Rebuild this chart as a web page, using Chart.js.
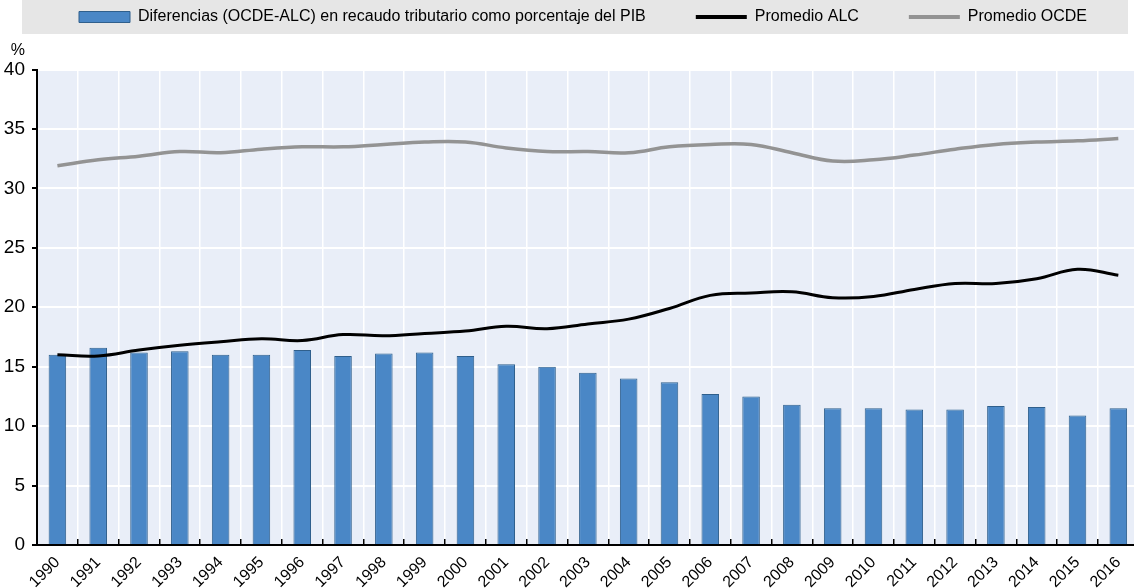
<!DOCTYPE html>
<html>
<head>
<meta charset="utf-8">
<script src="https://cdn.jsdelivr.net/npm/chart.js@4.4.1/dist/chart.umd.min.js"></script>
<style>
  html, body { margin: 0; padding: 0; background: #fff; overflow: hidden; }
  #wrap { position: relative; width: 1146px; height: 588px; }
</style>
</head>
<body>
<div id="wrap"><canvas id="c"></canvas></div>
<script>
const years = ['1990','1991','1992','1993','1994','1995','1996','1997','1998','1999','2000','2001','2002','2003','2004','2005','2006','2007','2008','2009','2010','2011','2012','2013','2014','2015','2016'];
const diferencias = [16.0,16.6,16.2,16.3,16.0,16.0,16.4,15.9,16.1,16.2,15.9,15.2,15.0,14.5,14.0,13.7,12.7,12.5,11.8,11.5,11.5,11.4,11.4,11.7,11.6,10.9,11.5];
const promedioALC = [16.0,15.9,16.4,16.8,17.1,17.35,17.2,17.7,17.6,17.8,18.0,18.4,18.2,18.6,19.0,19.9,21.0,21.2,21.3,20.8,20.9,21.5,22.0,22.0,22.4,23.2,22.7];
const promedioOCDE = [31.9,32.4,32.7,33.1,33.0,33.3,33.5,33.5,33.7,33.9,33.9,33.4,33.1,33.1,33.0,33.5,33.7,33.7,33.0,32.3,32.4,32.8,33.3,33.7,33.9,34.0,34.2];
const yTicks = [0,5,10,15,20,25,30,35,40];
const seriesNames = ['Diferencias (OCDE-ALC) en recaudo tributario como porcentaje del PIB','Promedio ALC','Promedio OCDE'];
const unitLabel = '%';

const FONT = "'Liberation Sans', Arial, sans-serif";
const LEGEND_SPACE = 69.5;   // height reserved above the plot
const LEGEND_ITEM_CENTER = 17;
const LEGEND_PAD = 50;
const LEGEND_SHIFT = 12;

const layoutPlugin = {
  id: 'layoutTweaks',
  beforeLayout(chart) {
    const lg = chart.legend;
    if (lg && !lg._patched) {
      const orig = lg.fit.bind(lg);
      lg.fit = function () { orig(); this.height = LEGEND_SPACE; };
      lg._patched = true;
    }
  },
  afterLayout(chart) {
    const lg = chart.legend;
    const fs = 16;
    lg.top = LEGEND_ITEM_CENTER - fs / 2 - LEGEND_PAD;
    lg.left += LEGEND_SHIFT;
    lg.right += LEGEND_SHIFT;
  },
  beforeDraw(chart) {
    const ctx = chart.ctx, a = chart.chartArea;
    ctx.save();
    ctx.fillStyle = '#e6e6e6';
    ctx.fillRect(22, 0, chart.width - 18 - 22, 34);
    ctx.fillStyle = '#e9eef8';
    ctx.fillRect(a.left, a.top, a.right - a.left, a.bottom - a.top);
    ctx.restore();
  },
  afterDraw(chart) {
    const ctx = chart.ctx, a = chart.chartArea, ys = chart.scales.y;
    ctx.save();
    ctx.fillStyle = '#000';
    ctx.font = '16px ' + FONT;
    ctx.textAlign = 'right';
    ctx.textBaseline = 'alphabetic';
    ctx.fillText(unitLabel, ys.right - 12, a.top - 15);
    ctx.restore();
  }
};

new Chart(document.getElementById('c'), {
  type: 'bar',
  data: {
    labels: years,
    datasets: [
      { type: 'bar', label: seriesNames[0], data: diferencias, backgroundColor: '#4a87c6', borderColor: '#2f5f8c', borderWidth: 1, barPercentage: 0.86, categoryPercentage: 0.5, order: 2 },
      { type: 'line', label: seriesNames[1], data: promedioALC, borderColor: '#000000', backgroundColor: '#000000', borderWidth: 3, pointRadius: 0, tension: 0.4, order: 1 },
      { type: 'line', label: seriesNames[2], data: promedioOCDE, borderColor: '#939393', backgroundColor: '#939393', borderWidth: 3.5, pointRadius: 0, tension: 0.4, order: 1 }
    ]
  },
  options: {
    responsive: true,
    maintainAspectRatio: false,
    animation: false,
    layout: { padding: { top: 0, left: 2, right: 6, bottom: 0 } },
    plugins: {
      tooltip: { enabled: false },
      legend: {
        position: 'top',
        labels: {
          color: '#000',
          font: { family: FONT, size: 16 },
          usePointStyle: true,
          pointStyleWidth: 51,
          boxHeight: 11,
          padding: LEGEND_PAD,
          generateLabels(chart) {
            return chart.data.datasets.map((ds, i) => ({
              text: ds.label,
              fillStyle: ds.backgroundColor,
              strokeStyle: ds.borderColor,
              lineWidth: ds.type === 'bar' ? 1 : 4,
              pointStyle: ds.type === 'bar' ? 'rect' : 'line',
              hidden: false,
              fontColor: '#000',
              datasetIndex: i
            }));
          }
        }
      }
    },
    scales: {
      x: {
        offset: true,
        grid: { offset: true, color: '#ffffff', lineWidth: 1.5, tickColor: '#000', tickLength: -6, drawTicks: true },
        border: { color: '#000', width: 2 },
        ticks: { color: '#000', font: { family: FONT, size: 16 }, minRotation: 45, maxRotation: 45, padding: 14, autoSkip: false },
        afterFit(s) { s.height = 43; }
      },
      y: {
        min: 0, max: 40,
        afterBuildTicks(s) { s.ticks = yTicks.map(v => ({ value: v })); },
        grid: { color: '#ffffff', lineWidth: 2, tickColor: '#000', tickLength: 5 },
        border: { color: '#000', width: 2 },
        ticks: { color: '#000', font: { family: FONT, size: 19 }, padding: 7 },
        afterFit(s) { s.width = 35; }
      }
    }
  },
  plugins: [layoutPlugin]
});
</script>
</body>
</html>
